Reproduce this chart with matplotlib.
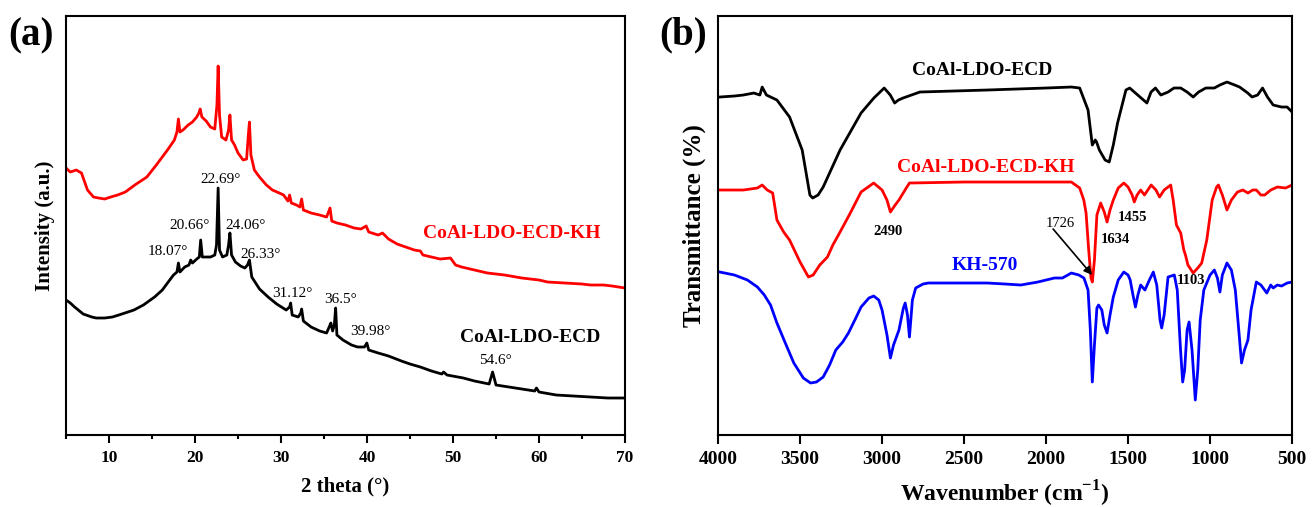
import matplotlib
matplotlib.use('Agg')
import matplotlib.pyplot as plt
from matplotlib.ticker import MultipleLocator

# ---- (a) XRD data, 2 theta (deg) vs intensity (a.u.) ----
xrd_x_kh = [5, 5.5, 6.2, 6.8, 7.5, 8.2, 8.8, 9.5, 10.2, 11, 11.9, 13, 14.4, 15.5, 16.8,
            17.6, 17.9, 18.07, 18.25, 18.6, 19.2, 19.7, 20.2, 20.45, 20.6, 20.8, 21.3,
            21.8, 22.3, 22.55, 22.69, 22.85, 23.1, 23.6, 23.9, 24.06, 24.25, 24.6, 25.0,
            25.6, 26.0, 26.2, 26.33, 26.5, 26.9, 27.5, 28.3, 29, 29.8, 30.3, 30.8, 31.0,
            31.2, 31.8, 32.2, 32.4, 32.6, 33.5, 34.5, 35.3, 35.7, 35.9, 36.5, 37.5, 38.5,
            39.3, 39.9, 40.2, 41.3, 41.8, 42.5, 43.5, 44.5, 45.5, 46.2, 46.5, 47.5, 48.5,
            49.7, 50.3, 51, 52.5, 54, 56, 58, 60, 61, 63, 65, 66, 67.5, 68.5, 70]
xrd_y_kh = [267, 263, 265, 262, 245, 238, 237, 236, 238, 240, 243, 250, 258, 270, 285,
            295, 303, 316, 303, 305, 310, 313, 318, 322, 326, 318, 314,
            308, 306, 330, 369, 320, 298, 295, 305, 320, 295, 290, 282,
            275, 276, 300, 313, 280, 265, 258, 250, 245, 242, 240, 234, 240,
            232, 230, 228, 236, 225, 222, 220, 218, 227, 214, 212, 210, 207,
            206, 209, 203, 200, 202, 196, 191, 188, 185, 184, 180, 178, 176,
            177, 170, 168, 165, 162, 160, 157, 155, 153, 152, 151, 150, 150, 149, 147]

xrd_x_ecd = [5, 5.5, 6, 7, 8, 8.5, 9.5, 10.4, 11.5, 12.9, 14, 15.3, 16.2, 16.8, 17.5,
             17.9, 18.07, 18.25, 18.8, 19.3, 19.5, 19.7, 20.2, 20.5, 20.66, 20.85, 21.3,
             21.8, 22.3, 22.5, 22.69, 22.85, 23.2, 23.7, 23.9, 24.06, 24.25, 24.7, 25.3,
             25.8, 26.1, 26.33, 26.6, 27.5, 28.5, 29.5, 30.6, 31.0, 31.12, 31.3, 32.0,
             32.3, 32.4, 32.6, 33.5, 34.5, 35.3, 35.6, 35.8, 36.0, 36.2, 36.35, 36.5,
             37.2, 38.2, 38.9, 39.7, 39.98, 40.2, 41.3, 42.5, 44, 45, 46.2, 47.5, 48.7,
             48.9, 49.3, 51.2, 52.5, 54.2, 54.6, 55, 56.5, 58, 59.5, 59.7, 60, 62, 64,
             66, 68, 70]
xrd_y_ecd = [135, 132, 128, 121, 118, 117, 117, 118, 121, 125, 130, 138, 145, 152, 160,
             163, 172, 163, 168, 170, 175, 172, 176, 178, 195, 178, 178,
             178, 180, 190, 247, 185, 178, 180, 190, 202, 180, 173, 169,
             167, 170, 175, 158, 146, 138, 131, 125, 128, 132, 120, 118,
             122, 126, 114, 108, 104, 102, 108, 112, 104, 110, 127, 100,
             95, 90, 88, 88, 92, 85, 82, 79, 74, 71, 68, 64, 61,
             63, 60, 57, 54, 51, 63, 50, 48, 46, 44, 47, 43, 40, 39,
             38, 37, 37]

xrd_peaks = ['22.69°', '20.66°', '24.06°', '18.07°', '26.33°', '31.12°', '36.5°', '39.98°', '54.6°']
xrd_peak_x = [23.0, 19.4, 25.9, 16.9, 27.6, 31.3, 36.9, 40.4, 54.9]
xrd_peak_y = [256, 210, 210, 184, 181, 142, 136, 104, 75]

# ---- (b) FTIR data, wavenumber (cm-1) vs transmittance ----
ir_x_ecd = [3990, 3900, 3846, 3782, 3745, 3731, 3705, 3641, 3564, 3487, 3440, 3423, 3390,
            3359, 3256, 3128, 3050, 2987, 2950, 2923, 2900, 2872, 2769, 2359, 2000, 1846,
            1795, 1744, 1718, 1700, 1692, 1675, 1640, 1615, 1590, 1564, 1513, 1490, 1462,
            1420, 1385, 1360, 1333, 1300, 1256, 1220, 1179, 1140, 1103, 1070, 1026, 974,
            940, 897, 850, 820, 770, 744, 710, 680, 650, 615, 564, 530, 500]
ir_y_ecd = [338, 339, 340, 342, 340, 348, 340, 335, 318, 285, 240, 237, 240,
            248, 285, 322, 337, 347, 340, 332, 335, 337, 343, 345, 347, 348,
            347, 325, 290, 295, 293, 285, 275, 273, 290, 312, 345, 347, 343,
            337, 332, 343, 347, 340, 343, 347, 347, 343, 338, 343, 347, 347,
            350, 353, 350, 348, 342, 338, 340, 347, 338, 330, 328, 328, 323]

ir_x_kh = [3990, 3846, 3760, 3731, 3700, 3667, 3641, 3600, 3564, 3500, 3449, 3420, 3380,
           3333, 3300, 3256, 3200, 3128, 3051, 3000, 2970, 2949, 2920, 2897, 2860, 2833,
           2500, 2000, 1846, 1795, 1770, 1756, 1740, 1726, 1718, 1705, 1690, 1667, 1645,
           1628, 1610, 1590, 1560, 1526, 1500, 1475, 1462, 1445, 1423, 1400, 1359, 1330,
           1308, 1280, 1240, 1225, 1205, 1179, 1160, 1150, 1135, 1103, 1075, 1051, 1020,
           987, 960, 949, 925, 897, 870, 833, 800, 769, 740, 718, 690, 667, 630, 590,
           540, 500]
ir_y_kh = [245, 245, 247, 250, 245, 242, 215, 203, 195, 173, 158, 160, 170,
           178, 190, 203, 220, 243, 252, 245, 235, 223, 230, 235, 245, 252,
           253, 253, 253, 247, 235, 222, 185, 157, 153, 175, 220, 232, 223,
           213, 225, 235, 247, 252, 248, 240, 233, 240, 245, 240, 250, 245,
           238, 245, 250, 235, 210, 202, 185, 180, 170, 162, 167, 172, 195,
           235, 248, 250, 240, 225, 235, 243, 245, 242, 245, 245, 240, 240, 245, 248,
           247, 250]

ir_x_570 = [3990, 3900, 3821, 3760, 3718, 3680, 3641, 3590, 3538, 3480, 3436, 3400, 3359,
            3320, 3282, 3240, 3205, 3160, 3128, 3080, 3051, 3020, 3000, 2970, 2949, 2930,
            2897, 2870, 2859, 2845, 2833, 2815, 2795, 2750, 2718, 2500, 2359, 2250, 2154,
            2050, 1949, 1900, 1846, 1800, 1769, 1744, 1730, 1718, 1705, 1690, 1680, 1660,
            1645, 1628, 1610, 1590, 1560, 1526, 1500, 1487, 1470, 1455, 1440, 1423, 1397,
            1370, 1346, 1325, 1305, 1295, 1280, 1256, 1218, 1200, 1180, 1167, 1155, 1140,
            1128, 1110, 1090, 1075, 1060, 1038, 1000, 974, 955, 940, 925, 897, 870, 846,
            825, 808, 790, 769, 750, 718, 690, 654, 630, 615, 590, 564, 530, 500]
ir_y_570 = [163, 160, 155, 148, 140, 130, 112, 92, 72, 57, 52, 53, 58,
            70, 85, 93, 102, 117, 128, 137, 139, 135, 125, 100, 77, 90,
            105, 127, 132, 120, 98, 135, 147, 151, 152, 152, 152, 151, 150,
            153, 157, 157, 162, 160, 157, 145, 105, 53, 90, 127, 130, 125,
            110, 102, 120, 138, 155, 163, 160, 155, 140, 128, 140, 150, 145,
            155, 163, 150, 115, 107, 120, 158, 160, 145, 85, 53, 65, 105,
            113, 85, 35, 65, 115, 145, 160, 165, 157, 143, 160, 172, 165, 145,
            105, 72, 85, 95, 125, 153, 150, 142, 150, 147, 150, 149, 152, 153]

ir_bands = ['2490', '1455', '1634', '1103']
ir_band_x = [2962, 1474, 1577, 1115]
ir_band_y = [204, 218, 196, 155]

plt.rcParams['font.family'] = ['Liberation Serif', 'DejaVu Serif']
plt.rcParams['mathtext.fontset'] = 'custom'
plt.rcParams['mathtext.rm'] = 'Liberation Serif'
plt.rcParams['mathtext.bf'] = 'Liberation Serif:bold'

fig = plt.figure(figsize=(13.12, 5.07), dpi=100)
ax1 = fig.add_axes([0.0503, 0.1420, 0.4261, 0.8264])
ax2 = fig.add_axes([0.5473, 0.1420, 0.4375, 0.8264])

for ax in (ax1, ax2):
    for s in ax.spines.values():
        s.set_linewidth(1.5)
    ax.set_yticks([])
    ax.set_ylim(0, 419)

# panel (a)
ax1.plot(xrd_x_kh, xrd_y_kh, color='#ff0000', lw=2)
ax1.plot(xrd_x_ecd, xrd_y_ecd, color='black', lw=2)
ax1.set_xlim(5, 70)
ax1.xaxis.set_major_locator(MultipleLocator(10))
ax1.xaxis.set_minor_locator(MultipleLocator(5))
ax1.tick_params(axis='x', which='major', direction='out', length=6, width=1.5, pad=5,
                labelsize=12.5)
ax1.tick_params(axis='x', which='minor', direction='out', length=3, width=1.5)
for lab in ax1.get_xticklabels():
    lab.set_fontweight('bold')
ax1.set_xlabel('2 theta (°)', fontsize=15, fontweight='bold')
ax1.xaxis.set_label_coords(0.5, -0.098)
ax1.set_ylabel('Intensity (a.u.)', fontsize=15, fontweight='bold', labelpad=8)
ax1.text(56.8, 202, 'CoAl-LDO-ECD-KH', color='#ff0000', fontsize=14, fontweight='bold',
         ha='center', va='center')
ax1.text(59, 98, 'CoAl-LDO-ECD', color='black', fontsize=14, fontweight='bold',
         ha='center', va='center')
for t, px, py in zip(xrd_peaks, xrd_peak_x, xrd_peak_y):
    ax1.text(px, py, t, fontsize=11, ha='center', va='center')

# panel (b)
ax2.plot(ir_x_ecd, ir_y_ecd, color='black', lw=2)
ax2.plot(ir_x_kh, ir_y_kh, color='#ff0000', lw=2)
ax2.plot(ir_x_570, ir_y_570, color='#0000ff', lw=2)
ax2.set_xlim(4000, 500)
ax2.xaxis.set_major_locator(MultipleLocator(500))
ax2.tick_params(axis='x', which='major', direction='out', length=6.5, width=1.5, pad=5,
                labelsize=14)
for lab in ax2.get_xticklabels():
    lab.set_fontweight('bold')
ax2.set_xlabel(r'Wavenumber (cm$^{\mathbf{-1}}$)', fontsize=17, fontweight='bold')
ax2.xaxis.set_label_coords(0.5, -0.105)
ax2.set_ylabel('Transmittance (%)', fontsize=18, fontweight='bold', labelpad=9)
ax2.text(2392, 365, 'CoAl-LDO-ECD', color='black', fontsize=14, fontweight='bold',
         ha='center', va='center')
ax2.text(2367, 268, 'CoAl-LDO-ECD-KH', color='#ff0000', fontsize=14, fontweight='bold',
         ha='center', va='center')
ax2.text(2372, 170, 'KH-570', color='#0000ff', fontsize=14, fontweight='bold',
         ha='center', va='center')
for t, px, py in zip(ir_bands, ir_band_x, ir_band_y):
    ax2.text(px, py, t, fontsize=10.5, fontweight='bold', ha='center', va='center')
ax2.text(1915, 212, '1726', fontsize=10.5, ha='center', va='center')
ax2.annotate('', xy=(1719, 160), xytext=(1957, 206),
             arrowprops=dict(arrowstyle='-|>', color='black', lw=1.2,
                             mutation_scale=12, shrinkA=0, shrinkB=0))

fig.text(31 / 1312, 1 - 36 / 507, '(a)', fontsize=28, fontweight='bold',
         ha='center', va='center')
fig.text(683 / 1312, 1 - 35 / 507, '(b)', fontsize=28, fontweight='bold',
         ha='center', va='center')

fig.savefig('out.png', dpi=100)
